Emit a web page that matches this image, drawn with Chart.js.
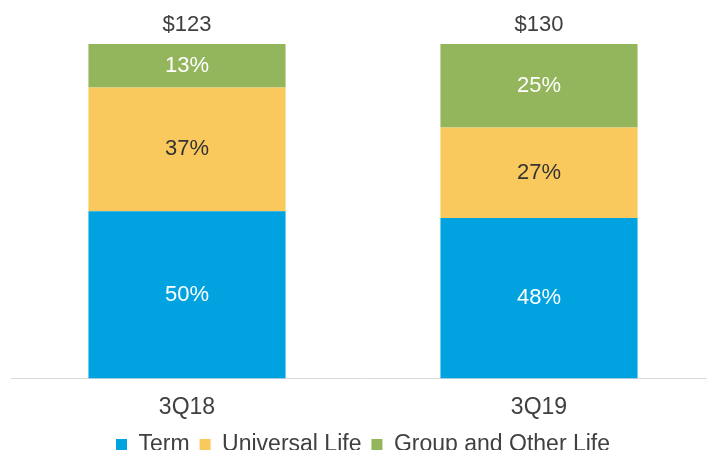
<!DOCTYPE html>
<html>
<head>
<meta charset="utf-8">
<script src="https://cdn.jsdelivr.net/npm/chart.js@4/dist/chart.umd.min.js"></script>
<style>
  html, body { margin: 0; padding: 0; background: #fff; overflow: hidden; }
  #wrap { position: relative; width: 723px; height: 466px; }
</style>
</head>
<body>
<div id="wrap"><canvas id="myChart"></canvas></div>
<script>
Chart.defaults.font.family = "'Liberation Sans', Arial, sans-serif";

const categories = ["3Q18", "3Q19"];
const term = [50, 48];
const universalLife = [37, 27];
const groupOther = [13, 25];
const totals = ["$123", "$130"];

const textColor = "#404040";

// labels inside segments + totals above the bars
const barLabels = {
  id: "barLabels",
  afterDatasetsDraw(chart) {
    const ctx = chart.ctx;
    ctx.save();
    ctx.font = "22px 'Liberation Sans', Arial, sans-serif";
    ctx.textAlign = "center";
    ctx.textBaseline = "middle";
    chart.data.datasets.forEach((ds, i) => {
      const meta = chart.getDatasetMeta(i);
      meta.data.forEach((bar, j) => {
        ctx.fillStyle = ds.labelColor;
        ctx.fillText(ds.data[j] + "%", bar.x, (bar.y + bar.base) / 2);
      });
    });
    const last = chart.getDatasetMeta(chart.data.datasets.length - 1);
    last.data.forEach((bar, j) => {
      ctx.fillStyle = textColor;
      ctx.fillText(totals[j], bar.x, bar.y - 19);
    });
    ctx.restore();
  },
};

const ctx = document.getElementById("myChart");

const myChart = new Chart(ctx, {
  type: "bar",
  data: {
    labels: categories,
    datasets: [
      {
        label: "Term",
        data: term,
        backgroundColor: "#00A3E0",
        labelColor: "#ffffff",
      },
      {
        label: "Universal Life",
        data: universalLife,
        backgroundColor: "#F9C95D",
        labelColor: "#333333",
      },
      {
        label: "Group and Other Life",
        data: groupOther,
        backgroundColor: "#93B55B",
        labelColor: "#ffffff",
      },
    ],
  },
  options: {
    responsive: true,
    maintainAspectRatio: false,
    animation: false,
    categoryPercentage: 1,
    barPercentage: 0.56,
    layout: {
      padding: { top: 44, left: 11, right: 8, bottom: 0 },
    },
    plugins: {
      legend: {
        position: "bottom",
        labels: {
          boxWidth: 11,
          boxHeight: 11,
          padding: 10,
          color: textColor,
          font: { size: 23 },
        },
      },
      tooltip: { enabled: false },
    },
    scales: {
      x: {
        stacked: true,
        grid: { display: false },
        border: { color: "#D9D9D9", width: 1 },
        ticks: {
          color: textColor,
          font: { size: 23 },
          padding: 7,
        },
        // pull the legend up closer to the tick labels
        afterFit(scale) {
          scale.height -= 5;
        },
      },
      y: {
        stacked: true,
        display: false,
        min: 0,
        max: 100,
      },
    },
  },
  plugins: [barLabels],
});
</script>
</body>
</html>
